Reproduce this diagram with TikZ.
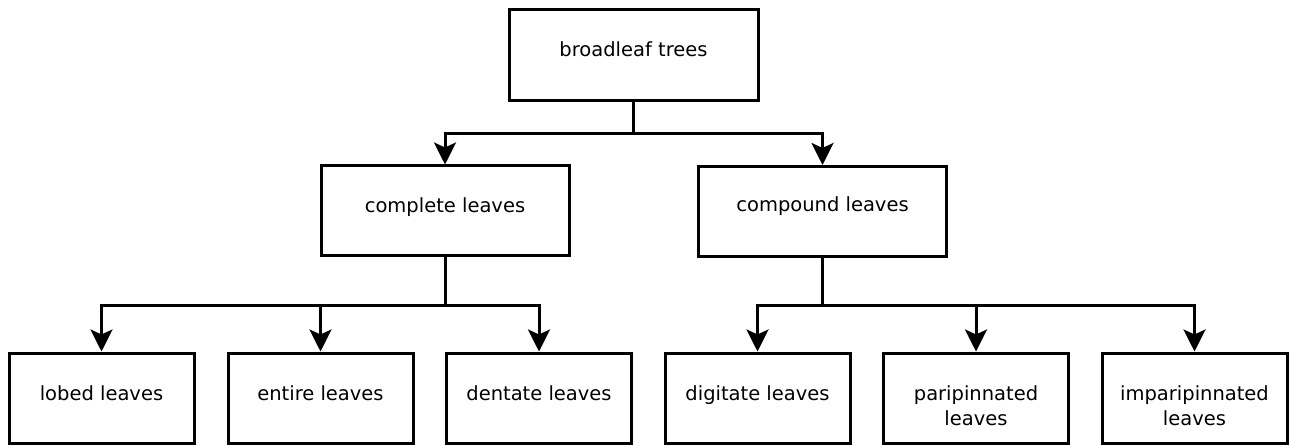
\documentclass[tikz,border=0pt]{standalone}
\usepackage{fontspec}
\setmainfont{DejaVu Sans}
\usetikzlibrary{arrows.meta}
\begin{document}
\begin{tikzpicture}[x=1pt,y=-1pt,
  box/.style={draw=black, line width=3pt, minimum height=90pt, inner sep=0pt},
  wbox/.style={box, minimum width=248pt},
  nbox/.style={box, minimum width=185pt},
  lbl/.style={anchor=base, align=center, font=\fontsize{19.5}{25.5}\selectfont, inner sep=0pt},
  conn/.style={line width=3pt},
  arr/.style={conn, -{Stealth[width=22pt,length=22pt,inset=5pt]}}]
\useasboundingbox (0,0) rectangle (1290,446);
% boxes
\node[wbox, minimum width=249pt, minimum height=91pt] (top) at (633.5,55.5) {};
\node[wbox] (comp) at (445,211) {};
\node[wbox] (cmpd) at (822.5,211.5) {};
\node[nbox] (lob) at (101.5,398) {};
\node[nbox] (ent) at (320.5,398) {};
\node[nbox] (den) at (539,398) {};
\node[nbox] (dig) at (757.5,398) {};
\node[nbox] (par) at (976,398) {};
\node[nbox] (imp) at (1194.5,398) {};
% labels
\node[lbl] (ltop) at (633.5,57) {broadleaf trees};
\node[lbl] (lcomp) at (445,212.5) {complete leaves};
\node[lbl] (lcmpd) at (822.5,212) {compound leaves};
\node[lbl] (llob) at (101.5,400) {lobed leaves};
\node[lbl] (lent) at (320.5,400) {entire leaves};
\node[lbl] (lden) at (539,400) {dentate leaves};
\node[lbl] (ldig) at (757.5,400) {digitate leaves};
\node[lbl] (lpar) at (976,425.5) {paripinnated\\leaves};
\node[lbl] (limp) at (1194.5,425.5) {imparipinnated\\leaves};
% junctions
\coordinate (j1) at (633.5,134);
\coordinate (j2) at (445,305);
\coordinate (j3) at (822.5,305);
% connectors
\draw[conn] (top.south) -- (j1);
\draw[arr] (j1) -| (comp.north);
\draw[arr] (j1) -| (cmpd.north);
\draw[conn] (comp.south) -- (j2);
\draw[arr] (j2) -| (lob.north);
\draw[arr] (j2) -| (ent.north);
\draw[arr] (j2) -| (den.north);
\draw[conn] (cmpd.south) -- (j3);
\draw[arr] (j3) -| (dig.north);
\draw[arr] (j3) -| (par.north);
\draw[arr] (j3) -| (imp.north);
\end{tikzpicture}
\end{document}
